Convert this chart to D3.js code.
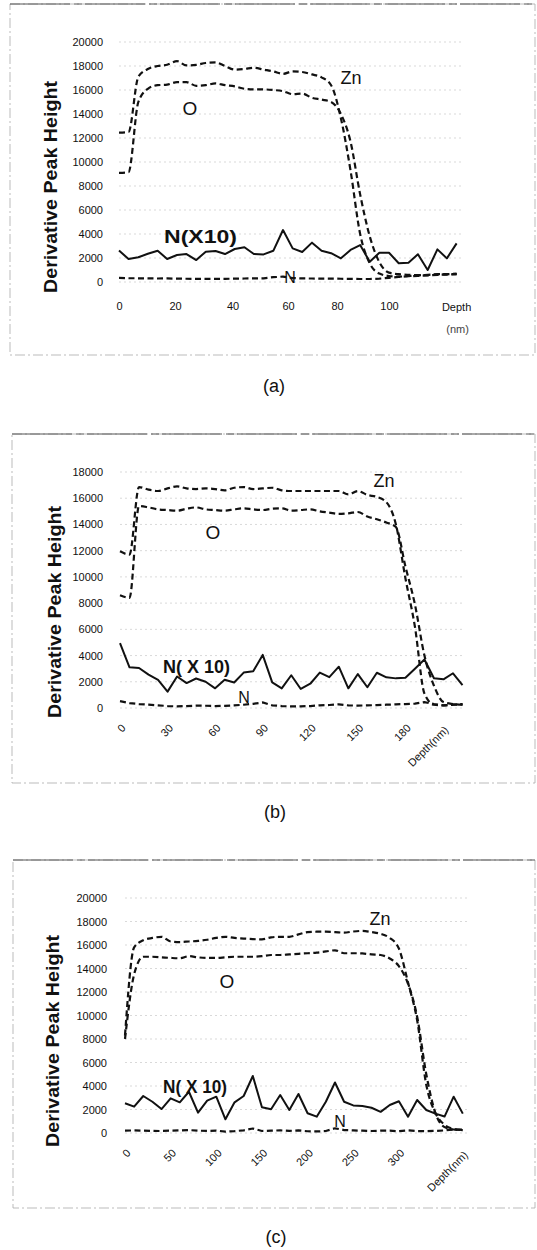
<!DOCTYPE html>
<html>
<head>
<meta charset="utf-8">
<script src="https://cdn.jsdelivr.net/npm/d3@7"></script>
<style>
  body { margin: 0; background: #fff; }
  svg text { font-family: "Liberation Sans", Arial, sans-serif; fill: #111; }
</style>
</head>
<body>
<div id="chart-area"></div>
<script>
// ---- panel (a) ----
var depthA = [0, 3.4, 6.9, 10.3, 13.8, 17.2, 20.7, 24.0, 27.4, 30.7, 34.1, 37.4, 40.8, 44.3, 47.7, 51.2, 54.7, 58.2,
              61.9, 65.8, 69.8, 73.7, 77.6, 81.5, 85.2, 88.9, 92.6, 96.3, 100.0, 103.6, 107.2, 110.7, 114.3, 117.9, 121.4, 125.0];
var znA = [12450, 12500, 17100, 17750, 18000, 18100, 18400, 18050, 18100, 18250, 18300, 18000, 17700, 17750, 17850, 17700, 17550, 17350,
           17550, 17500, 17300, 17050, 16400, 13650, 9300, 4000, 1550, 700, 500, 450, 500, 550, 600, 650, 650, 700];
var oA = [9100, 9150, 15000, 16100, 16400, 16450, 16650, 16650, 16350, 16400, 16550, 16400, 16300, 16100, 16050, 16050, 16000, 15900,
          15650, 15700, 15350, 15200, 15000, 14000, 11700, 7300, 3800, 1650, 780, 650, 600, 580, 580, 620, 650, 650];
var n10A = [2620, 1920, 2060, 2350, 2610, 1920, 2250, 2330, 1830, 2530, 2580, 2330, 2750, 2900, 2330, 2300, 2600, 4330,
            2800, 2500, 3280, 2600, 2400, 1970, 2670, 3080, 1690, 2440, 2440, 1560, 1610, 2310, 1000, 2720, 1970, 3220];
var nA = [350, 320, 310, 300, 290, 300, 280, 270, 260, 270, 260, 260, 280, 290, 300, 310, 400, 450,
          330, 300, 290, 280, 280, 270, 260, 250, 250, 280, 350, 420, 480, 500, 550, 600, 620, 650];
var xTicksA = [0, 20, 40, 60, 80, 100];
var yTicksA = [0, 2000, 4000, 6000, 8000, 10000, 12000, 14000, 16000, 18000, 20000];

// ---- panel (b) ----
var depthB = [0, 6, 12, 18, 24, 30, 36, 42, 48, 54, 60, 66, 72, 78, 84, 90, 96, 102, 108, 114, 120, 126, 132, 138, 144,
              150, 156, 162, 168, 174, 180, 186, 192, 198, 204, 210, 216];
var znB = [11950, 11700, 16850, 16650, 16550, 16750, 16900, 16750, 16700, 16750, 16700, 16600, 16800, 16850, 16700, 16750, 16800, 16600,
           16550, 16550, 16550, 16550, 16550, 16550, 16300, 16550, 16250, 16100, 15700, 14000, 9900, 6200, 1100, 250, 200, 250, 300];
var oB = [8600, 8400, 15400, 15300, 15150, 15100, 15050, 15200, 15300, 15150, 15100, 15050, 15150, 15230, 15150, 15100, 15200, 15230,
          15050, 15100, 15150, 15000, 14900, 14800, 14850, 14950, 14600, 14400, 14150, 13800, 10800, 7900, 4000, 1700, 450, 300, 250];
var n10B = [4950, 3100, 3050, 2550, 2150, 1250, 2400, 1900, 2250, 2000, 1500, 2150, 1950, 2700, 2800, 4050, 1950, 1500,
            2500, 1450, 1850, 2700, 2350, 3150, 1500, 2590, 1580, 2690, 2340, 2260, 2300, 3000, 3700, 2270, 2190, 2650, 1750];
var nB = [520, 370, 300, 250, 200, 150, 120, 150, 180, 170, 150, 160, 200, 250, 320, 420, 200, 150,
          120, 130, 150, 200, 230, 280, 200, 180, 200, 220, 250, 280, 300, 330, 450, 300, 200, 250, 280];
var xTicksB = [0, 30, 60, 90, 120, 150, 180];
var yTicksB = [0, 2000, 4000, 6000, 8000, 10000, 12000, 14000, 16000, 18000];

// ---- panel (c) ----
var depthC = [0, 10, 20, 30, 40, 50, 60, 70, 80, 90, 100, 110, 120, 130, 140, 150, 160, 170, 180, 190,
              200, 210, 220, 230, 240, 250, 260, 270, 280, 290, 300, 310, 320, 330, 340, 350, 360, 370];
var znC = [8300, 15800, 16400, 16600, 16700, 16300, 16250, 16300, 16350, 16450, 16600, 16700, 16600, 16550, 16500, 16480, 16650, 16700, 16700,
           16900, 17100, 17130, 17130, 17100, 17050, 17150, 17200, 17100, 16950, 16600, 15700, 12800, 9600, 4100, 1700, 700, 350, 250];
var oC = [8000, 13500, 15000, 15000, 14950, 14900, 14870, 15050, 14950, 14900, 14900, 14950, 15000, 15000, 15000, 15050, 15150, 15150, 15200,
          15250, 15300, 15350, 15450, 15550, 15300, 15300, 15280, 15200, 15150, 14850, 14200, 12700, 9900, 5000, 1700, 500, 300, 250];
var n10C = [2530, 2240, 3150, 2660, 2040, 2950, 2610, 3510, 1730, 2750, 3090, 1170, 2610, 3150, 4850, 2190, 2020, 3230, 1960,
            3320, 1680, 1390, 2660, 4300, 2660, 2350, 2300, 2150, 1800, 2380, 2700, 1390, 2810, 1960, 1650, 1400, 3090, 1650];
var nC = [200, 220, 200, 180, 170, 200, 220, 250, 200, 180, 200, 120, 160, 230, 380, 170, 200, 220, 180,
          220, 150, 130, 170, 400, 250, 220, 200, 170, 200, 200, 150, 220, 170, 150, 180, 220, 300, 280];
var xTicksC = [0, 50, 100, 150, 200, 250, 300];
var yTicksC = [0, 2000, 4000, 6000, 8000, 10000, 12000, 14000, 16000, 18000, 20000];


function drawPanel(svg, p) {
    var g = svg.append("g").attr("class", "panel-" + p.name)
    var x = p.x, y = p.y

    // scanned chart frame: darker top edge, faint dashed sides
    g.append("rect")
        .attr("x", p.frame[0]).attr("y", p.frame[1])
        .attr("width", p.frame[2] - p.frame[0]).attr("height", p.frame[3] - p.frame[1])
        .attr("fill", "none")
        .attr("stroke", "#aaa")
        .attr("stroke-width", 0.8)
        .attr("stroke-dasharray", "10,3,2,3")
    g.append("line")
        .attr("x1", p.frame[0]).attr("x2", p.frame[2])
        .attr("y1", p.frame[1]).attr("y2", p.frame[1])
        .attr("stroke", "#555")
        .attr("stroke-width", 1)
        .attr("stroke-dasharray", "60,4,8,3")

    // faint gridlines
    g.append("g").selectAll("line")
        .data(p.yTicks)
        .enter().append("line")
        .attr("x1", p.gridX[0]).attr("x2", p.gridX[1])
        .attr("y1", d => y(d)).attr("y2", d => y(d))
        .attr("stroke", "#cfcfcf")
        .attr("stroke-width", 0.8)
        .attr("stroke-dasharray", "2,3")

    // y tick labels
    var ya = g.append("g")
        .attr("transform", "translate(" + p.yLabelX + ",0)")
        .call(d3.axisLeft(y).tickValues(p.yTicks).tickSize(0).tickPadding(0).tickFormat(d3.format("d")))
    ya.select(".domain").remove()
    ya.attr("font-size", 11).attr("font-family", "Liberation Sans, Arial, sans-serif").attr("color", "#222")

    // x tick labels
    var xa = g.append("g")
        .attr("transform", "translate(0," + y(0) + ")")
        .call(d3.axisBottom(x).tickValues(p.xTicks).tickSize(0).tickPadding(p.rotate ? 0 : 20))
    xa.select(".domain").remove()
    xa.attr("font-size", 11).attr("font-family", "Liberation Sans, Arial, sans-serif").attr("color", "#222")
    if (p.rotate) {
        xa.selectAll("text")
            .attr("x", 0).attr("y", 0).attr("dy", "0.35em")
            .style("text-anchor", "end")
            .attr("transform", "translate(3,18) rotate(-45)")
        g.append("text")
            .attr("transform", "translate(" + (x(p.lastDepth) + 3) + "," + (y(0) + 20) + ") rotate(-45)")
            .attr("dy", "0.35em")
            .attr("text-anchor", "end")
            .attr("font-size", 11)
            .text("Depth(nm)")
    } else {
        g.append("text")
            .attr("x", x(p.lastDepth)).attr("y", y(0) + 29)
            .attr("text-anchor", "middle").attr("font-size", 11)
            .text("Depth")
        g.append("text")
            .attr("x", x(p.lastDepth) + 1).attr("y", y(0) + 51)
            .attr("text-anchor", "middle").attr("font-size", 11).style("fill", "#444")
            .text("(nm)")
    }

    var smooth = d3.line()
        .x((d, i) => x(p.depth[i]))
        .y(d => y(d))
        .curve(d3.curveMonotoneX)
    var straight = d3.line()
        .x((d, i) => x(p.depth[i]))
        .y(d => y(d))

    g.append("path").datum(p.n).attr("d", straight)
        .attr("fill", "none").attr("stroke", "#111").attr("stroke-width", 2.2).attr("stroke-dasharray", "6,3.5")
    g.append("path").datum(p.zn).attr("d", smooth)
        .attr("fill", "none").attr("stroke", "#111").attr("stroke-width", 2.2).attr("stroke-dasharray", "6,3.5")
    g.append("path").datum(p.o).attr("d", smooth)
        .attr("fill", "none").attr("stroke", "#111").attr("stroke-width", 2.2).attr("stroke-dasharray", "6,3.5")
    g.append("path").datum(p.n10).attr("d", straight)
        .attr("fill", "none").attr("stroke", "#111").attr("stroke-width", 2).attr("stroke-linejoin", "round")

    // y axis title
    g.append("text")
        .attr("transform", "translate(" + p.title[0] + "," + p.title[1] + ") rotate(-90)")
        .attr("text-anchor", "middle")
        .attr("dy", "0.35em")
        .attr("font-size", 18.5)
        .attr("font-weight", "bold")
        .attr("textLength", 212)
        .attr("lengthAdjust", "spacingAndGlyphs")
        .text("Derivative Peak Height")

    // series labels
    g.append("text").attr("x", p.zn_lbl[0]).attr("y", p.zn_lbl[1])
        .attr("text-anchor", "middle").attr("font-size", 18).text("Zn")
    g.append("text").attr("x", p.o_lbl[0]).attr("y", p.o_lbl[1])
        .attr("text-anchor", "middle").attr("font-size", 19).text("O")
    g.append("text").attr("x", p.n10_lbl[0]).attr("y", p.n10_lbl[1])
        .attr("font-size", 18).attr("font-weight", "bold")
        .attr("textLength", p.n10_lbl[2]).attr("lengthAdjust", "spacingAndGlyphs")
        .text(p.n10Text)
    g.append("text").attr("x", p.n_lbl[0]).attr("y", p.n_lbl[1])
        .attr("text-anchor", "middle").attr("font-size", 16).text("N")

    // caption
    g.append("text").attr("x", p.caption[0]).attr("y", p.caption[1])
        .attr("text-anchor", "middle").attr("font-size", 18).text("(" + p.name + ")")
}

function init() {
    var svg = d3.select("#chart-area")
        .append("svg")
        .attr("width", 537)
        .attr("height", 1250)

    drawPanel(svg, {
        name: "a",
        depth: depthA, zn: znA, o: oA, n10: n10A, n: nA,
        xTicks: xTicksA, yTicks: yTicksA, lastDepth: 125, rotate: false,
        x: d3.scaleLinear().domain([0, 20, 40, 60, 80, 100, 125]).range([119, 175, 232.5, 288, 337, 389, 456.6]),
        y: d3.scaleLinear().domain([0, 20000]).range([282, 42]),
        frame: [10, 4, 535, 355], gridX: [119, 462], yLabelX: 103,
        title: [51, 187],
        zn_lbl: [351, 84], o_lbl: [190, 115], n10_lbl: [164, 243, 73], n_lbl: [290, 283], n10Text: "N(X10)",
        caption: [274, 392]
    })

    drawPanel(svg, {
        name: "b",
        depth: depthB, zn: znB, o: oB, n10: n10B, n: nB,
        xTicks: xTicksB, yTicks: yTicksB, lastDepth: 204, rotate: true,
        x: d3.scaleLinear().domain([0, 216]).range([120, 462.5]),
        y: d3.scaleLinear().domain([0, 18000]).range([708, 472]),
        frame: [12, 434, 535, 783], gridX: [120, 465], yLabelX: 103,
        title: [55, 612],
        zn_lbl: [384, 487], o_lbl: [213, 539], n10_lbl: [163, 673, 67], n_lbl: [244, 703], n10Text: "N( X 10)",
        caption: [275, 818]
    })

    drawPanel(svg, {
        name: "c",
        depth: depthC, zn: znC, o: oC, n10: n10C, n: nC,
        xTicks: xTicksC, yTicks: yTicksC, lastDepth: 370, rotate: true,
        x: d3.scaleLinear().domain([0, 370]).range([125, 462.8]),
        y: d3.scaleLinear().domain([0, 20000]).range([1133, 898]),
        frame: [13, 860, 535, 1208], gridX: [125, 467], yLabelX: 107,
        title: [53, 1041],
        zn_lbl: [380, 925], o_lbl: [227, 988], n10_lbl: [163, 1093, 64], n_lbl: [340, 1127], n10Text: "N( X 10)",
        caption: [276, 1243]
    })
}

window.addEventListener('load', init, false)
</script>
</body>
</html>
